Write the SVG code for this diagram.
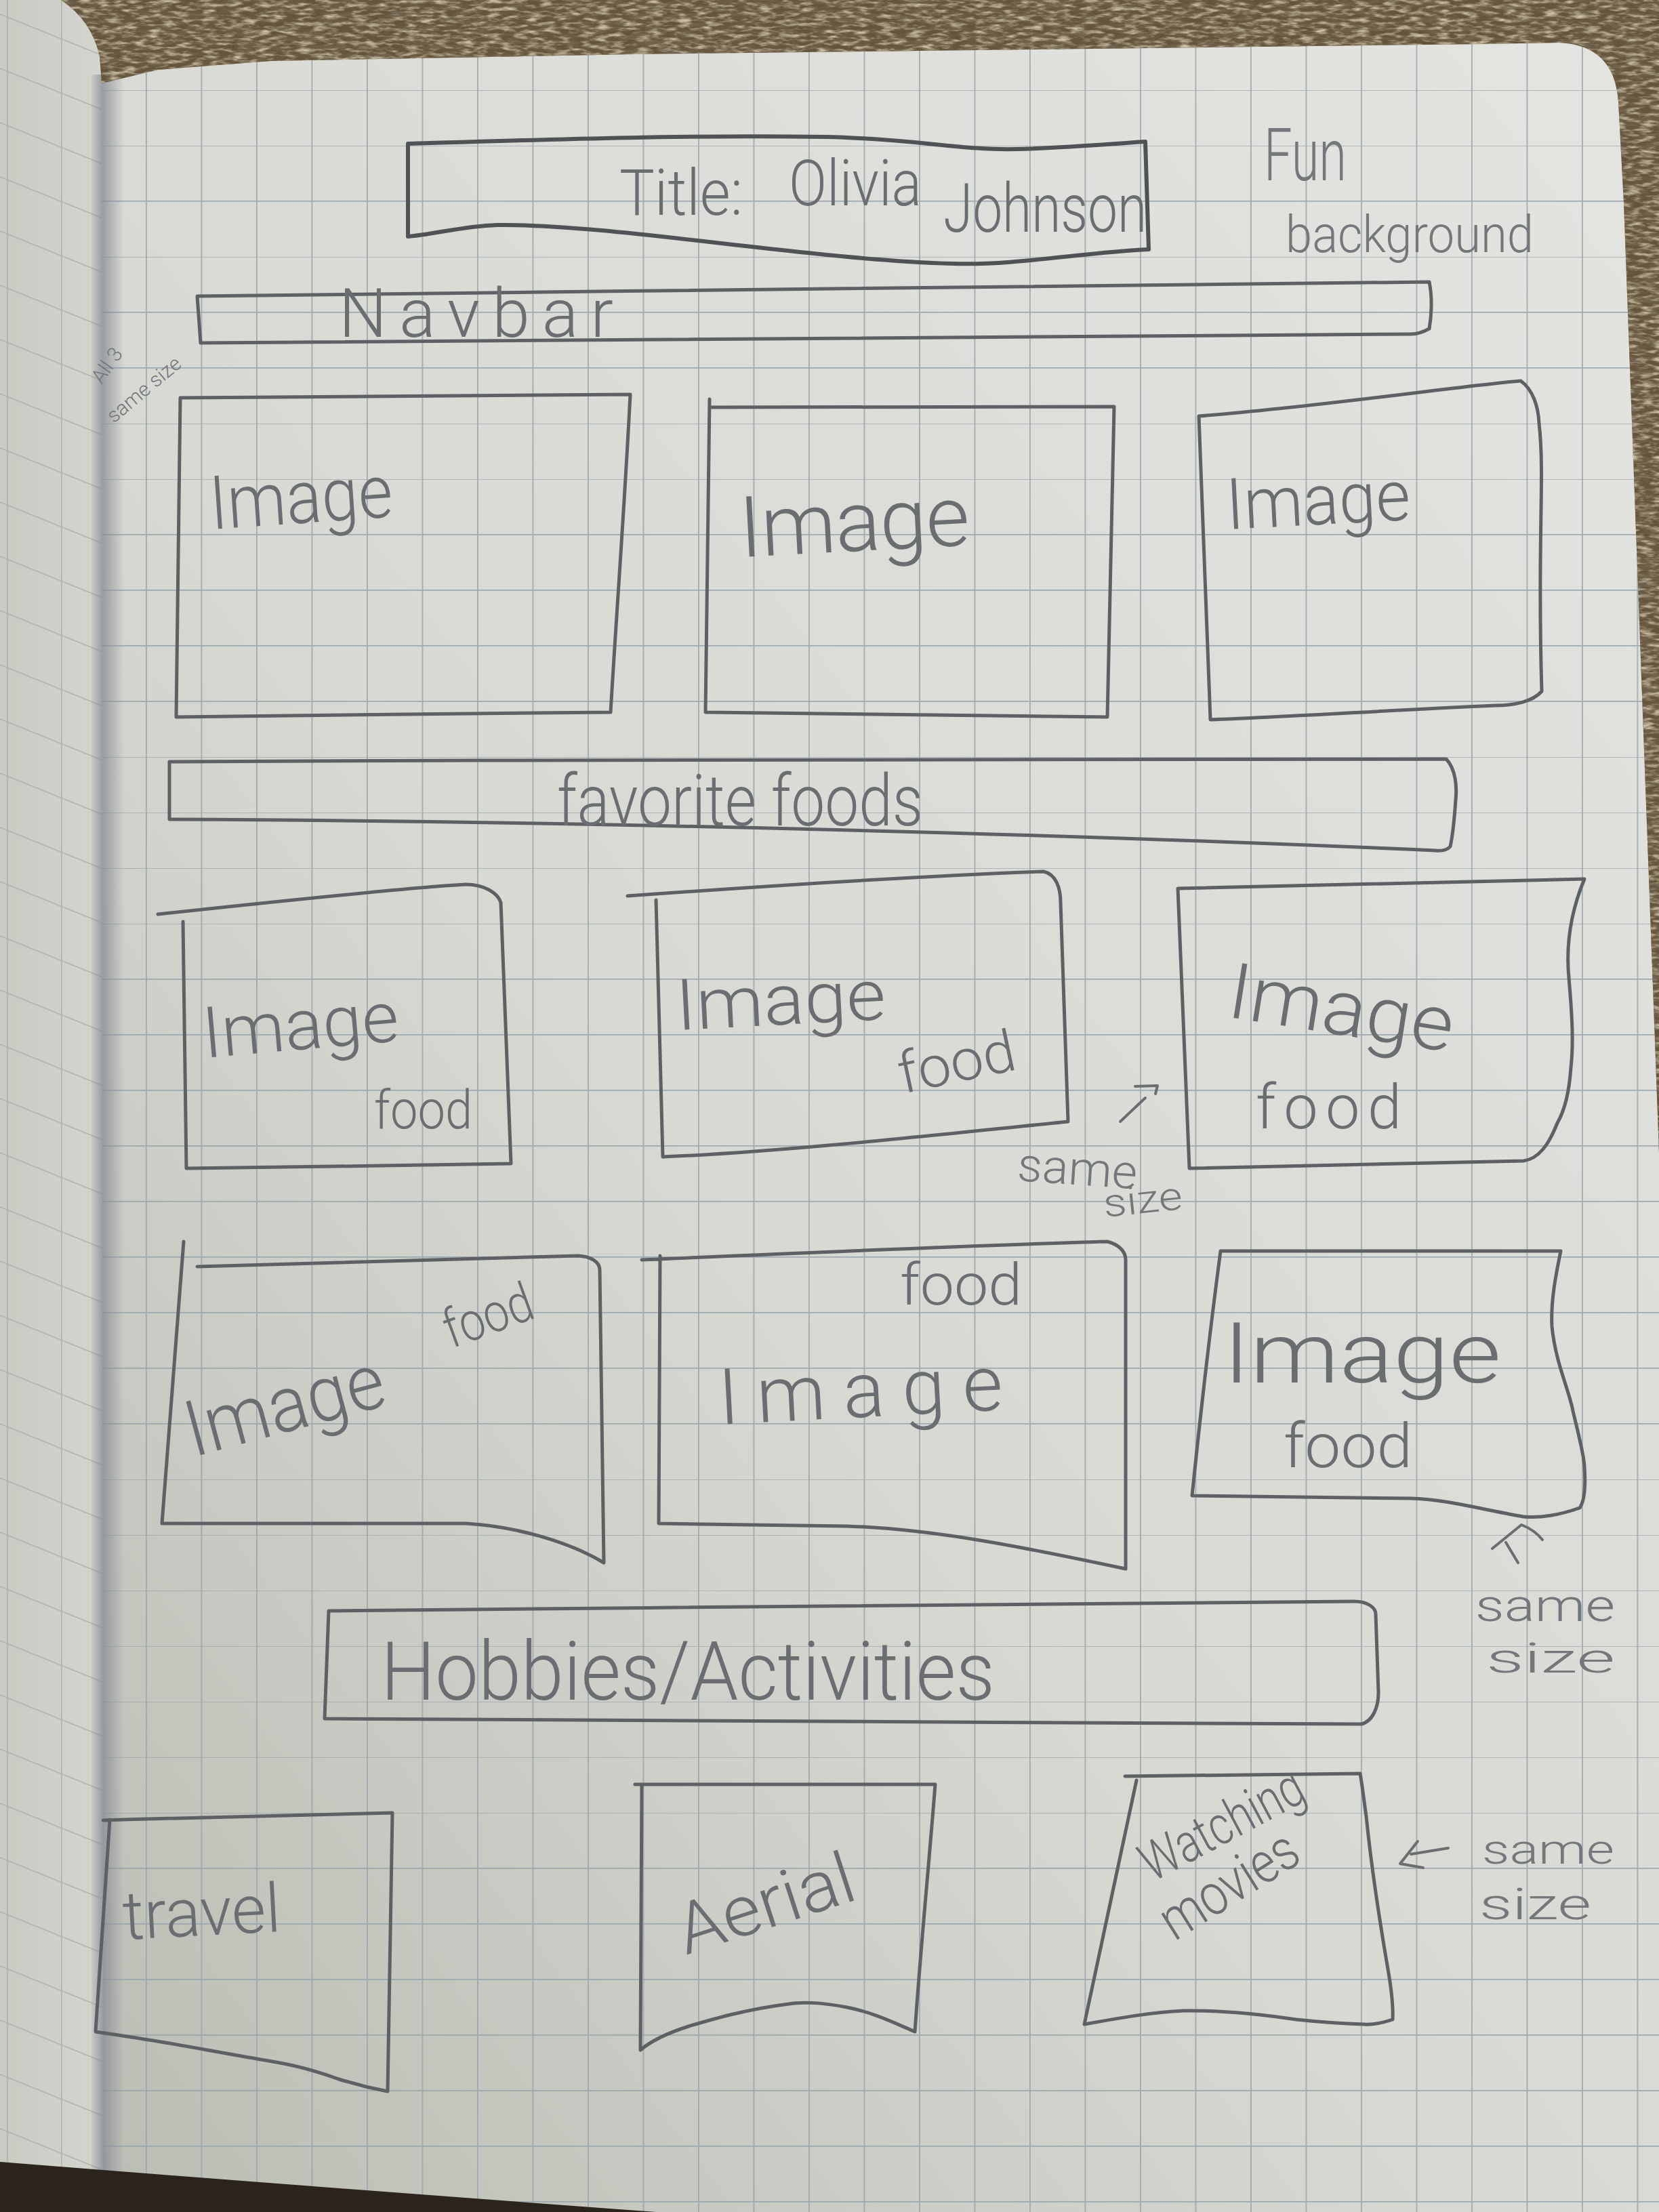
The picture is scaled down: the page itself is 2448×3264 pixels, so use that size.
<svg xmlns="http://www.w3.org/2000/svg" width="2448" height="3264" viewBox="0 0 2448 3264">
  <defs>
    <linearGradient id="paperShade" x1="1" y1="0" x2="0" y2="1">
      <stop offset="0" stop-color="#e4e5e1"/>
      <stop offset="0.55" stop-color="#d8d9d3"/>
      <stop offset="1" stop-color="#b9bab1"/>
    </linearGradient>
    <linearGradient id="leafShade" x1="0" y1="0" x2="1" y2="0">
      <stop offset="0" stop-color="#c9cac2"/>
      <stop offset="1" stop-color="#d4d5ce"/>
    </linearGradient>
    <linearGradient id="gutter" x1="0" y1="0" x2="1" y2="0">
      <stop offset="0" stop-color="#868a93" stop-opacity="0.15"/>
      <stop offset="0.35" stop-color="#868a93" stop-opacity="0.75"/>
      <stop offset="1" stop-color="#868a93" stop-opacity="0"/>
    </linearGradient>
    <pattern id="grid" width="81.5" height="82" x="52" y="50" patternUnits="userSpaceOnUse">
      <path d="M0,0 H81.5 M0,0 V82" fill="none" stroke="#98a4ac" stroke-width="3.5" stroke-opacity="0.9"/>
    </pattern>
    <pattern id="leafGrid" width="80" height="80" x="10" y="20" patternUnits="userSpaceOnUse" patternTransform="skewY(22)">
      <path d="M0,0 H80 M0,0 V80" fill="none" stroke="#9da39f" stroke-width="3" stroke-opacity="0.7"/>
    </pattern>
    <filter id="carpetDark" x="0" y="0" width="100%" height="100%">
      <feTurbulence type="fractalNoise" baseFrequency="0.04 0.15" numOctaves="3" seed="7"/>
      <feColorMatrix type="matrix" values="0 0 0 0 0.17  0 0 0 0 0.13  0 0 0 0 0.08  -2.6 0 0 0 1.55"/>
      <feComposite in2="SourceGraphic" operator="in"/>
    </filter>
    <filter id="carpetLight" x="0" y="0" width="100%" height="100%">
      <feTurbulence type="fractalNoise" baseFrequency="0.05 0.18" numOctaves="3" seed="21"/>
      <feColorMatrix type="matrix" values="0 0 0 0 0.6  0 0 0 0 0.53  0 0 0 0 0.38  2.6 0 0 0 -1.15"/>
      <feComposite in2="SourceGraphic" operator="in"/>
    </filter>
    <style>
      .pen { fill: none; stroke: #5d6164; stroke-width: 5; stroke-linecap: round; stroke-linejoin: round; }
      .dark { stroke: #4f5355; stroke-width: 6; }
      .hand { font-family: Roboto, "Open Sans", "DejaVu Sans", sans-serif; font-weight: 300; fill: #6a6e71; }
      .note { font-family: Roboto, "Open Sans", "DejaVu Sans", sans-serif; font-weight: 300; fill: #74787b; }
    </style>
  </defs>

  <!-- paper -->
  <rect x="0" y="0" width="2448" height="3264" fill="url(#paperShade)"/>
  <rect x="150" y="0" width="2298" height="3264" fill="url(#grid)"/>

  <!-- previous leaf on the left -->
  <path d="M0,0 L90,0 Q135,30 147,83 L150,123 L152,3205 L0,3190 Z" fill="url(#leafShade)"/>
  <path d="M0,0 L90,0 Q135,30 147,83 L150,123 L152,3205 L0,3190 Z" fill="url(#leafGrid)"/>
  <rect x="135" y="110" width="48" height="3100" fill="url(#gutter)"/>

  <!-- carpet around the notebook -->
  <g id="carpet">
    <path d="M90,0 L2448,0 L2448,1700 L2396,300 L2388,150 Q2382,66 2300,63 L2186,65 L937,80 L400,90 L233,103 L150,123 L147,83 Q135,30 90,0 Z" fill="#64543b"/>
    <path d="M90,0 L2448,0 L2448,1700 L2396,300 L2388,150 Q2382,66 2300,63 L2186,65 L937,80 L400,90 L233,103 L150,123 L147,83 Q135,30 90,0 Z" fill="#000" filter="url(#carpetDark)"/>
    <path d="M90,0 L2448,0 L2448,1700 L2396,300 L2388,150 Q2382,66 2300,63 L2186,65 L937,80 L400,90 L233,103 L150,123 L147,83 Q135,30 90,0 Z" fill="#000" filter="url(#carpetLight)"/>
    <path d="M0,3190 Q400,3222 969,3264 L0,3264 Z" fill="#2b241c"/>
  </g>

  <!-- header -->
  <g id="title">
    <path class="pen dark" d="M602,212 C800,206 1000,199 1219,202 C1350,205 1420,222 1500,220 C1580,218 1640,212 1690,209 L1695,368 C1600,372 1500,392 1406,389 C1200,384 900,330 734,332 C680,334 640,346 602,349 Z"/>
    <text class="hand" x="914" y="317" font-size="95" textLength="182" lengthAdjust="spacingAndGlyphs">Title:</text>
    <text class="hand" x="1164" y="303" font-size="95" textLength="196" lengthAdjust="spacingAndGlyphs">Olivia</text>
    <text class="hand" x="1392" y="342" font-size="100" textLength="300" lengthAdjust="spacingAndGlyphs">Johnson</text>
  </g>

  <g id="note-background">
    <text class="note" x="1865" y="266" font-size="108" textLength="122" lengthAdjust="spacingAndGlyphs">Fun</text>
    <text class="note" x="1897" y="372" font-size="76" textLength="366" lengthAdjust="spacingAndGlyphs">background</text>
  </g>

  <g id="navbar">
    <path class="pen" d="M291,437 C900,430 1600,421 2109,416 C2114,440 2112,468 2109,485 C2100,490 2090,493 2082,493 C1500,499 900,504 296,506 L291,437"/>
    <text class="hand" x="500" y="497" font-size="100" textLength="405" lengthAdjust="spacing">Navbar</text>
  </g>

  <g id="note-row1">
    <text class="note" x="150" y="568" font-size="30" transform="rotate(-55 150 568)">All 3</text>
    <text class="note" x="168" y="625" font-size="30" transform="rotate(-40 168 625)">same size</text>
  </g>

  <!-- first row of images -->
  <g id="image-1">
    <path class="pen" d="M266,587 C480,586 700,584 930,582 C922,740 910,900 901,1051 C690,1053 470,1055 260,1058 C262,900 264,740 266,587"/>
    <text class="hand" x="312" y="781" font-size="110" textLength="270" lengthAdjust="spacingAndGlyphs" transform="rotate(-4 312 781)">Image</text>
  </g>
  <g id="image-2">
    <path class="pen" d="M1047,589 L1041,1051 C1240,1053 1440,1056 1634,1058 C1638,900 1641,750 1644,600 C1450,601 1250,602 1047,601"/>
    <text class="hand" x="1093" y="822" font-size="125" textLength="340" lengthAdjust="spacing" transform="rotate(-3 1093 822)">Image</text>
  </g>
  <g id="image-3">
    <path class="pen" d="M1769,614 C1950,600 2150,570 2244,562 C2262,575 2270,600 2271,625 C2280,700 2268,800 2275,1020 C2262,1035 2235,1041 2207,1041 C2050,1048 1900,1058 1786,1062 L1769,614"/>
    <text class="hand" x="1811" y="781" font-size="105" textLength="272" lengthAdjust="spacingAndGlyphs" transform="rotate(-3 1811 781)">Image</text>
  </g>

  <g id="favorite-foods">
    <path class="pen" d="M250,1124 C900,1121 1600,1118 2134,1120 C2148,1135 2150,1160 2148,1180 C2146,1210 2143,1235 2140,1249 C2135,1255 2125,1256 2118,1255 C1600,1232 900,1212 250,1209 L250,1124"/>
    <text class="hand" x="822" y="1218" font-size="105" textLength="540" lengthAdjust="spacingAndGlyphs">favorite foods</text>
  </g>

  <!-- food cards -->
  <g id="food-1">
    <path class="pen" d="M233,1349 C400,1331 600,1310 687,1305 C715,1305 735,1318 739,1332 L754,1717 C600,1720 420,1722 275,1724 L270,1360"/>
    <text class="hand" x="302" y="1561" font-size="105" textLength="290" lengthAdjust="spacingAndGlyphs" transform="rotate(-5 302 1561)">Image</text>
    <text class="hand" x="552" y="1665" font-size="80" textLength="145" lengthAdjust="spacingAndGlyphs">food</text>
  </g>
  <g id="food-2">
    <path class="pen" d="M926,1322 C1150,1306 1400,1291 1540,1286 C1558,1290 1565,1310 1565,1332 L1576,1655 C1380,1675 1150,1700 978,1707 L968,1328"/>
    <text class="hand" x="999" y="1520" font-size="105" textLength="310" lengthAdjust="spacingAndGlyphs" transform="rotate(-3 999 1520)">Image</text>
    <text class="hand" x="1332" y="1614" font-size="85" textLength="175" lengthAdjust="spacingAndGlyphs" transform="rotate(-12 1332 1614)">food</text>
  </g>
  <g id="food-3">
    <path class="pen" d="M1738,1311 L2338,1297 C2320,1340 2310,1390 2315,1443 C2320,1500 2322,1540 2318,1575 C2315,1620 2305,1645 2298,1657 C2285,1690 2270,1710 2248,1713 L1755,1724 L1738,1311"/>
    <text class="hand" x="1808" y="1500" font-size="115" textLength="335" lengthAdjust="spacingAndGlyphs" transform="rotate(9 1808 1500)">Image</text>
    <text class="hand" x="1853" y="1665" font-size="90" textLength="215" lengthAdjust="spacing">food</text>
  </g>
  <g id="food-4">
    <path class="pen" d="M271,1832 L239,2248 C400,2248 560,2247 687,2248 C760,2252 840,2275 891,2306 L885,1874 C885,1862 872,1854 853,1853 C700,1856 500,1862 291,1869"/>
    <text class="hand" x="666" y="1990" font-size="80" textLength="135" lengthAdjust="spacingAndGlyphs" transform="rotate(-20 666 1990)">food</text>
    <text class="hand" x="285" y="2150" font-size="115" textLength="300" lengthAdjust="spacingAndGlyphs" transform="rotate(-15 285 2150)">Image</text>
  </g>
  <g id="food-5">
    <path class="pen" d="M947,1859 C1200,1848 1450,1837 1634,1832 C1650,1836 1661,1846 1661,1859 L1661,2315 C1520,2285 1380,2256 1249,2252 L972,2248 L974,1853"/>
    <text class="hand" x="1328" y="1925" font-size="85" textLength="180" lengthAdjust="spacingAndGlyphs">food</text>
    <text class="hand" x="1062" y="2102" font-size="115" textLength="420" lengthAdjust="spacing" transform="rotate(-3 1062 2102)">Image</text>
  </g>
  <g id="food-6">
    <path class="pen" d="M1801,1846 L2303,1846 C2296,1880 2288,1920 2290,1957 C2295,2010 2315,2050 2321,2082 C2330,2120 2338,2150 2338,2165 C2340,2195 2338,2215 2331,2225 C2300,2236 2270,2240 2248,2238 C2180,2226 2130,2212 2082,2211 L1759,2207 C1772,2080 1786,1960 1801,1846"/>
    <text class="hand" x="1805" y="2040" font-size="125" textLength="410" lengthAdjust="spacingAndGlyphs">Image</text>
    <text class="hand" x="1894" y="2165" font-size="90" textLength="190" lengthAdjust="spacingAndGlyphs">food</text>
  </g>

  <g id="hobbies-activities">
    <path class="pen" d="M485,2377 C1000,2372 1600,2366 1998,2363 C2018,2363 2030,2372 2030,2382 L2034,2498 C2034,2520 2025,2540 2009,2544 C1500,2542 900,2538 479,2536 L485,2377"/>
    <text class="hand" x="562" y="2508" font-size="120" textLength="906" lengthAdjust="spacingAndGlyphs">Hobbies/Activities</text>
  </g>

  <!-- hobby cards -->
  <g id="hobby-travel">
    <path class="pen" d="M152,2686 C300,2681 450,2678 579,2675 L572,3086 C540,3080 516,3073 500,3068 C450,3050 420,3045 391,3040 C320,3028 260,3016 219,3010 C190,3005 160,3001 141,2998 L162,2685"/>
    <text class="hand" x="183" y="2862" font-size="100" textLength="233" lengthAdjust="spacingAndGlyphs" transform="rotate(-3 183 2862)">travel</text>
  </g>
  <g id="hobby-aerial">
    <path class="pen" d="M937,2633 C1080,2634 1230,2634 1380,2633 C1370,2760 1358,2880 1350,2998 C1320,2985 1290,2970 1250,2962 C1210,2954 1180,2954 1164,2957 C1100,2965 1050,2980 1016,2990 C985,3000 960,3012 945,3025 L947,2633"/>
    <text class="hand" x="1012" y="2885" font-size="105" textLength="270" lengthAdjust="spacingAndGlyphs" transform="rotate(-18 1012 2885)">Aerial</text>
  </g>
  <g id="hobby-movies">
    <path class="pen" d="M1660,2621 C1780,2619 1900,2618 2007,2617 C2011,2640 2013,2660 2016,2680 C2022,2740 2030,2800 2047,2900 C2053,2933 2056,2960 2055,2980 C2040,2985 2025,2988 2013,2987 C1980,2986 1950,2984 1913,2980 C1860,2972 1800,2966 1747,2967 C1700,2969 1650,2978 1600,2987 L1677,2627"/>
    <text class="hand" x="1700" y="2778" font-size="80" textLength="262" lengthAdjust="spacingAndGlyphs" transform="rotate(-28 1700 2778)">Watching</text>
    <text class="hand" x="1733" y="2865" font-size="85" textLength="225" lengthAdjust="spacingAndGlyphs" transform="rotate(-32 1733 2865)">movies</text>
  </g>

  <!-- "same size" remarks -->
  <g id="note-food-row2">
    <text class="note" x="1500" y="1742" font-size="70" textLength="177" lengthAdjust="spacingAndGlyphs" transform="rotate(4 1500 1742)">same</text>
    <text class="note" x="1630" y="1796" font-size="58" textLength="117" lengthAdjust="spacingAndGlyphs" transform="rotate(-6 1630 1796)">size</text>
  </g>
  <g id="note-food-row3">
    <text class="note" x="2177" y="2392" font-size="66" textLength="206" lengthAdjust="spacingAndGlyphs">same</text>
    <text class="note" x="2193" y="2468" font-size="62" textLength="190" lengthAdjust="spacingAndGlyphs">size</text>
  </g>
  <g id="note-hobbies">
    <text class="note" x="2187" y="2750" font-size="62" textLength="195" lengthAdjust="spacingAndGlyphs">same</text>
    <text class="note" x="2183" y="2832" font-size="64" textLength="165" lengthAdjust="spacingAndGlyphs">size</text>
  </g>

  <!-- pointer strokes from the remarks to the cards -->
  <g id="connectors" class="pen" style="stroke:#6a6e71;stroke-width:4">
    <path d="M1653,1655 L1690,1620 M1675,1603 L1708,1602 L1705,1614"/>
    <path d="M2202,2285 L2245,2250 C2258,2255 2268,2262 2276,2272 M2222,2276 L2240,2306"/>
    <path d="M2137,2727 L2082,2736 M2092,2717 L2066,2750 L2100,2756"/>
  </g>
</svg>
